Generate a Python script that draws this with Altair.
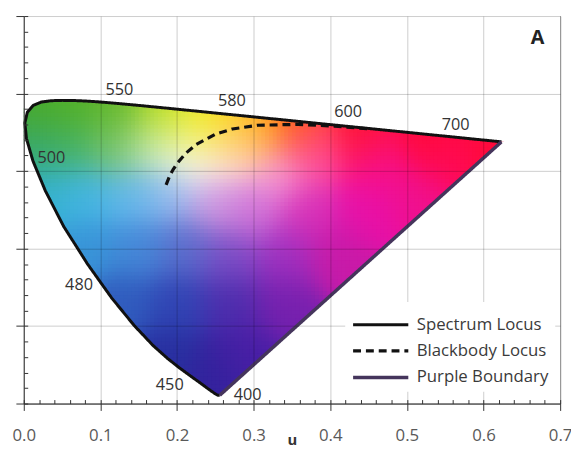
import altair as alt
import pandas as pd
import numpy as np

alt.data_transformers.disable_max_rows()

# ---------------- data ----------------
# CIE 1931 2-degree spectral chromaticities (x, y), 400-700 nm every 5 nm
wavelengths = list(range(400, 705, 5))
cie_x = [0.1733, 0.1730, 0.1726, 0.1721, 0.1714, 0.1703, 0.1689, 0.1669, 0.1644, 0.1611,
         0.1566, 0.1510, 0.1440, 0.1355, 0.1241, 0.1096, 0.0913, 0.0687, 0.0454, 0.0235,
         0.0082, 0.0039, 0.0139, 0.0389, 0.0743, 0.1142, 0.1547, 0.1929, 0.2296, 0.2658,
         0.3016, 0.3373, 0.3731, 0.4087, 0.4441, 0.4788, 0.5125, 0.5448, 0.5752, 0.6029,
         0.6270, 0.6482, 0.6658, 0.6801, 0.6915, 0.7006, 0.7079, 0.7140, 0.7190, 0.7230,
         0.7260, 0.7283, 0.7300, 0.7311, 0.7320, 0.7327, 0.7334, 0.7340, 0.7344, 0.7346,
         0.7347]
cie_y = [0.0048, 0.0048, 0.0048, 0.0048, 0.0051, 0.0058, 0.0069, 0.0086, 0.0109, 0.0138,
         0.0177, 0.0227, 0.0297, 0.0399, 0.0578, 0.0868, 0.1327, 0.2007, 0.2950, 0.4127,
         0.5384, 0.6548, 0.7502, 0.8120, 0.8338, 0.8262, 0.8059, 0.7816, 0.7543, 0.7243,
         0.6923, 0.6589, 0.6245, 0.5896, 0.5547, 0.5202, 0.4866, 0.4544, 0.4242, 0.3965,
         0.3725, 0.3514, 0.3340, 0.3197, 0.3083, 0.2993, 0.2920, 0.2859, 0.2809, 0.2770,
         0.2740, 0.2717, 0.2700, 0.2689, 0.2680, 0.2673, 0.2666, 0.2660, 0.2656, 0.2654,
         0.2653]

# Planckian (blackbody) locus in CIE 1960 (u, v)
bb_temps = [1000, 1200, 1500, 2000, 2500, 3000, 4000, 5000, 6500, 8000, 10000, 15000, 20000]
bb_u = [0.4481, 0.4060, 0.3580, 0.3050, 0.2721, 0.2505, 0.2252, 0.2115, 0.2005, 0.1946, 0.1903, 0.1857, 0.1840]
bb_v = [0.3547, 0.3579, 0.3602, 0.3591, 0.3542, 0.3477, 0.3343, 0.3230, 0.3103, 0.3015, 0.2934, 0.2822, 0.2766]

# wavelength annotations (u, v of text centre)
label_text = ["550", "580", "600", "700", "500", "480", "450", "400"]
label_u = [0.1248, 0.2715, 0.4234, 0.5636, 0.0360, 0.0721, 0.1905, 0.2921]
label_v = [0.4046, 0.3900, 0.3766, 0.3594, 0.3162, 0.1527, 0.0242, 0.0115]

panel_text = ["A"]
panel_u = [0.6705]
panel_v = [0.4720]

series_names = ["Spectrum Locus", "Blackbody Locus", "Purple Boundary"]

# colour samples (u, v, colour)
anchor_u = [0.01, 0.06, 0.12, 0.18, 0.235, 0.27, 0.31, 0.36, 0.44, 0.53, 0.61,
            0.01, 0.06, 0.12, 0.17, 0.22, 0.27, 0.285, 0.33, 0.38, 0.46, 0.55,
            0.03, 0.08, 0.14, 0.19, 0.25, 0.30, 0.37, 0.45, 0.51,
            0.08, 0.15, 0.21, 0.27, 0.34, 0.41,
            0.13, 0.20, 0.27, 0.34,
            0.19, 0.25, 0.29, 0.225]
anchor_v = [0.37, 0.38, 0.375, 0.37, 0.365, 0.362, 0.358, 0.355, 0.348, 0.342, 0.338,
            0.33, 0.33, 0.33, 0.33, 0.315, 0.32, 0.343, 0.30, 0.32, 0.31, 0.32,
            0.27, 0.27, 0.27, 0.27, 0.26, 0.25, 0.25, 0.25, 0.27,
            0.20, 0.20, 0.20, 0.19, 0.19, 0.19,
            0.13, 0.13, 0.13, 0.13,
            0.06, 0.04, 0.06, 0.345]
anchor_color = ["#48a828", "#52b028", "#64b82a", "#b8dc18", "#f0ee00", "#ffd400", "#ff9800", "#ff5020", "#ff1430", "#ff0a35", "#ff0a3a",
                "#34a87c", "#44b268", "#78c470", "#d0eec0", "#ffffff", "#ffe0f0", "#ffc880", "#f8a0d8", "#ff48a0", "#f8108a", "#ff0a5a",
                "#34b2d0", "#44b6e4", "#62b8ec", "#90b8ee", "#d098e0", "#d070d8", "#d830b8", "#e810a8", "#f0108e",
                "#3894d8", "#4488d8", "#5a6ccc", "#7c4cc6", "#a030c0", "#c81aa8",
                "#305cbe", "#3044b4", "#4c2cac", "#7620ae",
                "#2830a0", "#32229c", "#4a1ea6", "#f0f080"]

# ---------------- derived tables ----------------
cx = np.array(cie_x)
cy = np.array(cie_y)
den = -2 * cx + 12 * cy + 3
loc_u = 4 * cx / den
loc_v = 6 * cy / den


def inside(pu, pv, polyu, polyv):
    res = np.zeros(pu.shape, bool)
    n = len(polyu)
    j = n - 1
    for i in range(n):
        ui, vi, uj, vj = polyu[i], polyv[i], polyu[j], polyv[j]
        cond = ((vi > pv) != (vj > pv)) & (pu < (uj - ui) * (pv - vi) / (vj - vi + 1e-12) + ui)
        res ^= cond
        j = i
    return res


step = 0.005
gu, gv = np.meshgrid(np.arange(0, 0.63, step), np.arange(0, 0.40, step))
gu = gu.ravel()
gv = gv.ravel()
keep = np.zeros(gu.shape, bool)
for a in (0, step / 2, step):
    for b in (0, step / 2, step):
        keep |= inside(gu + a, gv + b, loc_u, loc_v)
gu = gu[keep]
gv = gv[keep]
cu = gu + step / 2
cv = gv + step / 2

au = np.array(anchor_u)
av = np.array(anchor_v)
acol = np.array([[int(h[1:3], 16), int(h[3:5], 16), int(h[5:7], 16)] for h in anchor_color], float)
d2 = (cu[:, None] - au[None, :]) ** 2 + (cv[:, None] - av[None, :]) ** 2
sigma = 0.028
w = np.exp(-(d2 - d2.min(axis=1, keepdims=True)) / (2 * sigma ** 2))
rgb = (w @ acol) / w.sum(axis=1, keepdims=True)
rgb = np.clip(np.round(rgb), 0, 255).astype(int)
hexes = ["#%02x%02x%02x" % tuple(c) for c in rgb]

cells = pd.DataFrame({"u0": gu, "u1": gu + step * 1.3, "v0": gv, "v1": gv + step * 1.3, "c": hexes})

imin = int(np.argmin(loc_u))
up_u = [0.0] + list(loc_u[imin:]) + [0.7]
up_v = [loc_v[imin]] + list(loc_v[imin:]) + [loc_v[-1]]
upper_df = pd.DataFrame({"u": up_u, "v": up_v})
lo_u = [0.0] + list(loc_u[: imin + 1][::-1]) + [loc_u[-1], 0.7]
lo_v = [loc_v[imin]] + list(loc_v[: imin + 1][::-1]) + [loc_v[-1], loc_v[-1]]
lower_df = pd.DataFrame({"u": lo_u, "v": lo_v})

rows = []
for k, (u, v) in enumerate(zip(loc_u, loc_v)):
    rows.append({"u": u, "v": v, "series": series_names[0], "o": k})
for k, (u, v) in enumerate(zip(bb_u, bb_v)):
    rows.append({"u": u, "v": v, "series": series_names[1], "o": k})
rows.append({"u": loc_u[0], "v": loc_v[0], "series": series_names[2], "o": 0})
rows.append({"u": loc_u[-1], "v": loc_v[-1], "series": series_names[2], "o": 1})
lines_df = pd.DataFrame(rows)

labels_df = pd.DataFrame({"t": label_text, "u": label_u, "v": label_v})
panel_df = pd.DataFrame({"t": panel_text, "u": panel_u, "v": panel_v})

# ---------------- chart ----------------
FONT = "Open Sans"
xs = alt.Scale(domain=[0, 0.7], nice=False, zero=False)
ys = alt.Scale(domain=[0, 0.5], nice=False, zero=False)

major_x = alt.Axis(orient="bottom", values=[0, 0.1, 0.2, 0.3, 0.4, 0.5, 0.6, 0.7], format=".1f",
                   tickSize=7, tickColor="#333333", domainColor="#333333", labelFont=FONT,
                   labelFontSize=17, labelColor="#595959", labelPadding=17, labelFlush=False,
                   title="u", titleFont=FONT, titleFontSize=15, titleFontWeight="bold",
                   titleColor="#333333", titleY=37, titleBaseline="middle",
                   grid=True, gridColor="#000000", gridOpacity=0.2, zindex=1)
major_y = alt.Axis(orient="left", values=[0, 0.1, 0.2, 0.3, 0.4, 0.5], labels=False,
                   tickSize=8, tickColor="#333333", domainColor="#333333", title=None,
                   grid=True, gridColor="#000000", gridOpacity=0.2, zindex=1)
minor_vals_x = [round(i * 0.02, 2) for i in range(36)]
minor_vals_y = [round(i * 0.02, 2) for i in range(26)]
minor_x = alt.Axis(orient="bottom", values=minor_vals_x, labels=False, domain=False, grid=False,
                   tickSize=4, offset=-4, tickColor="#333333", title=None, zindex=1)
minor_y = alt.Axis(orient="left", values=minor_vals_y, labels=False, domain=False, grid=False,
                   tickSize=4, offset=-4, tickColor="#333333", title=None, zindex=1)

cell_layer = alt.Chart(cells).mark_rect(strokeWidth=0).encode(
    x=alt.X("u0:Q", scale=xs, axis=major_x),
    x2="u1:Q",
    y=alt.Y("v0:Q", scale=ys, axis=major_y),
    y2="v1:Q",
    fill=alt.Fill("c:N", scale=None),
)

upper_layer = alt.Chart(upper_df).mark_area(color="white", interpolate="linear").encode(
    x=alt.X("u:Q", scale=xs, axis=minor_x),
    y=alt.Y("v:Q", scale=ys, axis=minor_y),
    y2=alt.datum(0.5),
)
lower_layer = alt.Chart(lower_df).mark_area(color="white", interpolate="linear").encode(
    x=alt.X("u:Q", scale=xs, axis=None),
    y=alt.Y("v:Q", scale=ys, axis=None),
    y2=alt.datum(0),
)

# a horizontal line symbol 56 px long (custom paths are scaled by sqrt(size)/2)
leg = alt.Legend(orient="none", legendX=326, legendY=290, title=None,
                 symbolType="M-1.806,0L1.806,0", symbolSize=961, symbolOffset=12.5,
                 labelFont=FONT, labelFontSize=17, labelColor="#3a3a3a", labelOffset=19,
                 fillColor="white", padding=6, rowPadding=1, zindex=2)
line_layer = alt.Chart(lines_df).mark_line(strokeCap="butt", strokeJoin="round").encode(
    x=alt.X("u:Q", scale=xs, axis=None),
    y=alt.Y("v:Q", scale=ys, axis=None),
    color=alt.Color("series:N", scale=alt.Scale(domain=series_names,
                                                range=["#111111", "#111111", "#45355c"]), legend=leg),
    strokeDash=alt.StrokeDash("series:N", scale=alt.Scale(domain=series_names,
                                                          range=[[1, 0], [8, 5], [1, 0]]), legend=leg),
    strokeWidth=alt.StrokeWidth("series:N", scale=alt.Scale(domain=series_names,
                                                            range=[3, 3.5, 2]), legend=leg),
    order=alt.Order("o:Q"),
)

label_layer = alt.Chart(labels_df).mark_text(font=FONT, fontSize=16.5, color="#333333",
                                             align="center", baseline="middle").encode(
    x=alt.X("u:Q", scale=xs, axis=None),
    y=alt.Y("v:Q", scale=ys, axis=None),
    text="t:N",
)
panel_layer = alt.Chart(panel_df).mark_text(font=FONT, fontSize=20, fontWeight="bold", color="#222222",
                                            align="center", baseline="middle").encode(
    x=alt.X("u:Q", scale=xs, axis=None),
    y=alt.Y("v:Q", scale=ys, axis=None),
    text="t:N",
)

chart = alt.layer(cell_layer, upper_layer, lower_layer, line_layer, label_layer, panel_layer).resolve_axis(
    x="independent", y="independent"
).properties(
    width=544, height=393,
    autosize=alt.AutoSizeParams(type="none"),
    padding={"left": 16, "top": 5, "right": 11, "bottom": 46},
).configure_view(stroke="#9a9a9a", strokeWidth=1)

chart.save("out.html", embed_options={"renderer": "svg", "actions": False})
